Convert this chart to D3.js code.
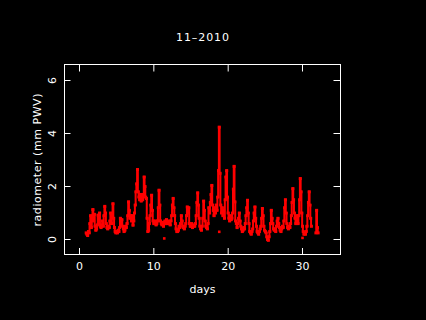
<!DOCTYPE html>
<html>
<head>
<meta charset="utf-8">
<script src="https://cdn.jsdelivr.net/npm/d3@7"></script>
<style>
  body { margin: 0; background: #000; }
  svg text { font-family: "DejaVu Sans", sans-serif; fill: #fff; }
</style>
</head>
<body>
<div id="chart"></div>
<script>
// Radiometer PWV, sampled every 0.1 day from day 0.9 (null = no data)
const startDay = 0.9;
const stepDay = 0.1;
const pwv = [
    0.25,
    0.2, 0.15, 0.3, 0.25, 0.6, 0.9, 0.45, 0.8, 1.13, 0.7,
    0.95, 0.5, 0.35, 0.4, 0.55, 0.92, 0.6, 1.0, 0.5, 0.45,
    0.55, 0.7, 0.5, 0.9, 1.25, 1.0, 0.6, 0.45, 0.4, 0.5,
    0.45, 0.7, 1.0, 0.6, 0.9, 1.35, 0.8, 0.45, 0.3, 0.25,
    0.3, 0.25, 0.35, 0.3, 0.45, 0.8, 0.6, 0.75, 0.5, 0.4,
    0.3, 0.35, 0.5, 0.45, 0.6, 0.9, 1.42, 1.1, 0.8, 0.9,
    0.7, 0.9, 0.54, 0.7, 1.0, 1.3, 1.8, 2.1, 2.64, 1.8,
    1.6, 1.5, 1.7, 1.45, 1.6, 1.5, 1.7, 2.36, 2.0, 1.6,
    1.55, 0.8, 0.3, 0.35, 0.6, 0.9, 1.3, 1.67, 1.1, 0.7,
    0.6, 0.65, 0.7, 0.55, 0.6, 0.7, 1.2, 1.86, 1.3, 0.7,
    0.6, 0.55, 0.65, 0.5, 0.6, 0.7, 0.6, 0.75, 0.6, 0.65,
    0.7, 0.6, 0.55, 0.7, 0.9, 1.3, 1.55, 1.2, 0.9, 0.6,
    0.4, 0.3, 0.3, 0.35, 0.5, 0.45, 0.6, 0.9, 0.7, 0.5,
    0.45, 0.4, 0.5, 0.6, 0.9, 1.23, 1.0, 1.2, 0.6, 0.5,
    0.5, 0.6, 0.45, 0.5, 0.55, 0.5, 0.6, 0.9, 1.4, 1.76,
    1.3, 0.8, 0.5, 0.4, 0.35, 0.5, 0.8, 1.45, 1.1, 0.7,
    0.5, 0.45, 0.4, 0.6, 1.2, 1.0, 1.4, 1.7, 2.04, 1.3,
    1.1, 0.9, 1.2, 1.0, 1.3, 1.1, 1.6, 2.6, 4.24, 2.5,
    1.3, 1.0, 1.2, 0.9, 1.1, 0.8, 1.5, 2.36, 2.6, 1.6,
    1.0, 0.8, 0.7, 0.9, 0.75, 0.8, 1.0, 1.9, 2.76, 1.42,
    0.7, 0.6, 0.45, 0.6, 0.8, 1.0, 0.7, 0.5, 0.4, 0.3,
    0.35, 0.45, 0.4, 0.6, 0.9, 1.2, 1.48, 1.0, 0.6, 0.3,
    0.25, 0.2, 0.3, 0.4, 0.7, 1.0, 1.23, 0.8, 0.5, 0.3,
    0.25, 0.2, 0.3, 0.4, 0.5, 0.8, 1.17, 0.9, 0.5, 0.35,
    0.3, 0.25, 0.1, 0.0, -0.03, 0.1, 0.3, 0.6, 1.1, 0.8,
    0.6, 0.4, 0.35, 0.4, 0.3, 0.5, 0.7, 0.8, 0.6, 0.45,
    0.35, 0.3, 0.4, 0.5, 0.45, 0.7, 1.2, 1.5, 1.0, 0.6,
    0.45, 0.4, 0.5, 0.45, 0.6, 0.9, 1.4, 1.92, 1.5, 1.0,
    0.8, 0.6, 0.9, 0.7, 0.6, 0.9, 1.5, 2.3, 1.8, 1.0,
    0.5, 0.3, 0.2, 0.25, 0.2, 0.3, 0.5, 0.9, 1.4, 1.8,
    1.3, 0.8, 0.5, null, null, null, null, null, 0.25, 1.1,
    0.45, 0.25
];

// isolated readings away from the main trace
const oddDays = [11.4, 18.8, 30.0];
const oddPwv = [0.04, 0.29, 0.06];

const xTicks = [0, 10, 20, 30];
const yTicks = [0, 2, 4, 6];
const title = "11\u20132010";

const points = pwv.map((v, i) => ({ day: startDay + i * stepDay, v: v }));

const W = 426, H = 320;
const svg = d3.select("#chart").append("svg")
    .attr("width", W)
    .attr("height", H)
    .style("background", "#000");

// plot box is 64.5..340.5 x 64.5..254.5
const x = d3.scaleLinear().domain([-2.018, 35.11]).range([64.5, 340.5]);
const y = d3.scaleLinear().domain([-0.566, 6.604]).range([254.5, 64.5]);

// dense samples: vertical streaks between consecutive readings
const line = d3.line()
    .defined(d => d.v !== null)
    .curve(d3.curveStep)
    .x(d => x(d.day))
    .y(d => y(d.v));

svg.append("path")
    .datum(points)
    .attr("d", line)
    .attr("fill", "none")
    .attr("stroke", "#ff0000")
    .attr("stroke-width", 2);

svg.selectAll("rect.pt")
    .data(points.filter(d => d.v !== null))
    .enter()
    .append("rect")
    .attr("class", "pt")
    .attr("x", d => x(d.day) - 1.5)
    .attr("y", d => y(d.v) - 1.5)
    .attr("width", 3)
    .attr("height", 3)
    .attr("fill", "#ff0000");

svg.selectAll("rect.odd")
    .data(oddDays.map((d, i) => ({ day: d, v: oddPwv[i] })))
    .enter()
    .append("rect")
    .attr("class", "odd")
    .attr("x", d => x(d.day) - 1.3)
    .attr("y", d => y(d.v) - 1.3)
    .attr("width", 2.6)
    .attr("height", 2.6)
    .attr("fill", "#ff0000");

// axes, ticks pointing inward on all four sides
function styleAxis(g) {
    g.select(".domain").remove();
    g.selectAll("line").attr("stroke", "#fff");
    g.selectAll("text").attr("fill", "#fff").attr("font-size", 11);
}

svg.append("g")
    .attr("transform", "translate(0,254.5)")
    .call(d3.axisBottom(x).tickValues(xTicks).tickSize(-6.5).tickPadding(8).offset(0))
    .call(styleAxis);

svg.append("g")
    .attr("transform", "translate(0,64.5)")
    .call(d3.axisTop(x).tickValues(xTicks).tickSize(-7).tickFormat("").offset(0))
    .call(styleAxis);

svg.append("g")
    .attr("transform", "translate(64.5,0)")
    .call(d3.axisLeft(y).tickValues(yTicks).tickSize(-6).offset(0))
    .call(styleAxis)
    .call(g => g.selectAll("text")
        .attr("transform", "rotate(-90)")
        .attr("text-anchor", "middle")
        .attr("x", 0)
        .attr("y", -9)
        .attr("dy", 0));

svg.append("g")
    .attr("transform", "translate(340.5,0)")
    .call(d3.axisRight(y).tickValues(yTicks).tickSize(-7).tickFormat("").offset(0))
    .call(styleAxis);

// frame
svg.append("rect")
    .attr("x", 64.5)
    .attr("y", 64.5)
    .attr("width", 276)
    .attr("height", 190)
    .attr("fill", "none")
    .attr("stroke", "#fff");

// labels
svg.append("text")
    .attr("x", 202.5)
    .attr("y", 41)
    .attr("text-anchor", "middle")
    .attr("font-size", 11)
    .attr("textLength", 53)
    .text(title);

svg.append("text")
    .attr("x", 202.5)
    .attr("y", 293)
    .attr("text-anchor", "middle")
    .attr("font-size", 11)
    .text("days");

svg.append("text")
    .attr("transform", "translate(41,160) rotate(-90)")
    .attr("text-anchor", "middle")
    .attr("font-size", 11)
    .attr("textLength", 133)
    .text("radiometer (mm PWV)");
</script>
</body>
</html>
